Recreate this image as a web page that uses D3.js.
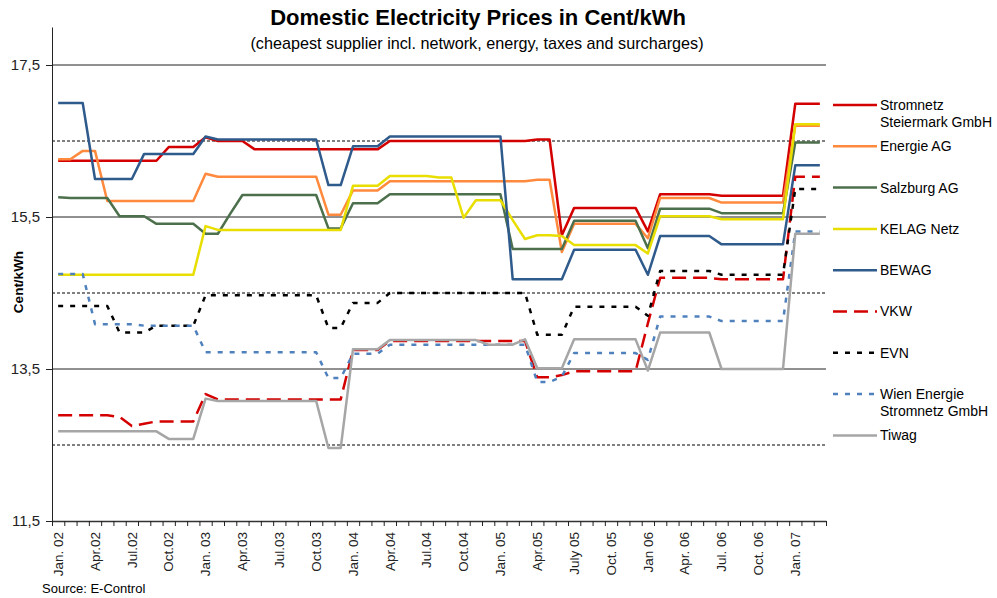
<!DOCTYPE html>
<html>
<head>
<meta charset="utf-8">
<script src="https://cdn.jsdelivr.net/npm/d3@7"></script>
<style>
  html, body { margin: 0; padding: 0; background: #fff; }
  svg { display: block; font-family: "Liberation Sans", Arial, sans-serif; }
</style>
</head>
<body>
<svg id="chart" width="997" height="598"></svg>
<script>
// one value per month, Jan 2002 .. Mar 2007 (63 months)
const months = d3.utcMonth.range(new Date(Date.UTC(2002, 0, 1)), new Date(Date.UTC(2007, 3, 1)));

const tickLabels = ["Jan. 02", "Apr.02", "Jul.02", "Oct.02", "Jan. 03", "Apr.03", "Jul.03", "Oct.03",
    "Jan. 04", "Apr.04", "Jul.04", "Oct.04", "Jan. 05", "Apr.05", "July 05", "Oct. 05",
    "Jan 06", "Apr. 06", "Jul. 06", "Oct. 06", "Jan. 07"];

const yTicks = [11.5, 13.5, 15.5, 17.5];
const yDotted = [12.5, 14.5, 16.5];

const stromnetz = [
    16.24, 16.24, 16.24, 16.24, 16.24, 16.24, 16.24, 16.24, 16.24, 16.42, 16.42, 16.42,
    16.55, 16.50, 16.50, 16.50, 16.39, 16.39, 16.39, 16.39, 16.39, 16.39, 16.39, 16.39,
    16.39, 16.39, 16.39, 16.50, 16.50, 16.50, 16.50, 16.50, 16.50, 16.50, 16.50, 16.50,
    16.50, 16.50, 16.50, 16.52, 16.52, 15.26, 15.62, 15.62, 15.62, 15.62, 15.62, 15.62,
    15.31, 15.80, 15.80, 15.80, 15.80, 15.80, 15.78, 15.78, 15.78, 15.78, 15.78, 15.78,
    16.99, 16.99, 16.99];
const energieAG = [
    16.26, 16.26, 16.37, 16.37, 15.71, 15.71, 15.71, 15.71, 15.71, 15.71, 15.71, 15.71,
    16.07, 16.03, 16.03, 16.03, 16.03, 16.03, 16.03, 16.03, 16.03, 16.03, 15.53, 15.53,
    15.85, 15.85, 15.85, 15.97, 15.97, 15.97, 15.97, 15.97, 15.97, 15.97, 15.97, 15.97,
    15.97, 15.97, 15.97, 15.99, 15.99, 15.04, 15.41, 15.41, 15.41, 15.41, 15.41, 15.41,
    15.22, 15.75, 15.75, 15.75, 15.75, 15.75, 15.69, 15.69, 15.69, 15.69, 15.69, 15.69,
    16.70, 16.70, 16.70];
const salzburgAG = [
    15.76, 15.75, 15.75, 15.75, 15.75, 15.51, 15.51, 15.51, 15.41, 15.41, 15.41, 15.41,
    15.28, 15.28, 15.54, 15.79, 15.79, 15.79, 15.79, 15.79, 15.79, 15.79, 15.35, 15.35,
    15.68, 15.68, 15.68, 15.80, 15.80, 15.80, 15.80, 15.80, 15.80, 15.80, 15.80, 15.80,
    15.80, 15.08, 15.08, 15.08, 15.08, 15.08, 15.45, 15.45, 15.45, 15.45, 15.45, 15.45,
    15.09, 15.61, 15.61, 15.61, 15.61, 15.61, 15.55, 15.55, 15.55, 15.55, 15.55, 15.55,
    16.48, 16.48, 16.48];
const kelag = [
    14.74, 14.74, 14.74, 14.74, 14.74, 14.74, 14.74, 14.74, 14.74, 14.74, 14.74, 14.74,
    15.38, 15.33, 15.33, 15.33, 15.33, 15.33, 15.33, 15.33, 15.33, 15.33, 15.33, 15.33,
    15.91, 15.91, 15.91, 16.04, 16.04, 16.04, 16.04, 16.02, 16.02, 15.49, 15.72, 15.72,
    15.72, 15.46, 15.21, 15.26, 15.26, 15.25, 15.13, 15.13, 15.13, 15.13, 15.13, 15.13,
    15.02, 15.51, 15.51, 15.51, 15.51, 15.51, 15.47, 15.47, 15.47, 15.47, 15.47, 15.47,
    16.72, 16.72, 16.72];
const bewag = [
    17.00, 17.00, 17.00, 16.00, 16.00, 16.00, 16.00, 16.33, 16.33, 16.33, 16.33, 16.33,
    16.56, 16.52, 16.52, 16.52, 16.52, 16.52, 16.52, 16.52, 16.52, 16.52, 15.92, 15.92,
    16.43, 16.43, 16.43, 16.56, 16.56, 16.56, 16.56, 16.56, 16.56, 16.56, 16.56, 16.56,
    16.56, 14.68, 14.68, 14.68, 14.68, 14.68, 15.07, 15.07, 15.07, 15.07, 15.07, 15.07,
    14.74, 15.25, 15.25, 15.25, 15.25, 15.25, 15.14, 15.14, 15.14, 15.14, 15.14, 15.14,
    16.18, 16.18, 16.18];
const vkw = [
    12.89, 12.89, 12.89, 12.89, 12.89, 12.87, 12.75, 12.78, 12.81, 12.81, 12.81, 12.81,
    13.17, 13.10, 13.10, 13.10, 13.10, 13.10, 13.10, 13.10, 13.10, 13.10, 13.10, 13.10,
    13.75, 13.75, 13.75, 13.87, 13.87, 13.87, 13.87, 13.87, 13.87, 13.87, 13.87, 13.87,
    13.87, 13.87, 13.87, 13.39, 13.39, 13.42, 13.47, 13.47, 13.47, 13.47, 13.47, 13.47,
    14.10, 14.70, 14.70, 14.70, 14.70, 14.70, 14.68, 14.68, 14.68, 14.68, 14.68, 14.68,
    16.03, 16.03, 16.03];
const evn = [
    14.33, 14.33, 14.33, 14.33, 14.33, 13.98, 13.98, 13.98, 14.07, 14.07, 14.07, 14.07,
    14.47, 14.47, 14.47, 14.47, 14.47, 14.47, 14.47, 14.47, 14.47, 14.47, 14.04, 14.04,
    14.37, 14.37, 14.37, 14.50, 14.50, 14.50, 14.50, 14.50, 14.50, 14.50, 14.50, 14.50,
    14.50, 14.50, 14.50, 13.95, 13.95, 13.95, 14.32, 14.32, 14.32, 14.32, 14.32, 14.32,
    14.20, 14.79, 14.79, 14.79, 14.79, 14.79, 14.74, 14.74, 14.74, 14.74, 14.74, 14.74,
    15.87, 15.87, 15.87];
const wienEnergie = [
    14.75, 14.75, 14.75, 14.09, 14.09, 14.09, 14.09, 14.07, 14.07, 14.07, 14.07, 14.07,
    13.72, 13.72, 13.72, 13.72, 13.72, 13.72, 13.72, 13.72, 13.72, 13.72, 13.38, 13.38,
    13.70, 13.70, 13.70, 13.82, 13.82, 13.82, 13.82, 13.82, 13.82, 13.82, 13.82, 13.82,
    13.82, 13.82, 13.82, 13.33, 13.33, 13.40, 13.71, 13.71, 13.71, 13.71, 13.71, 13.71,
    13.62, 14.19, 14.19, 14.19, 14.19, 14.19, 14.13, 14.13, 14.13, 14.13, 14.13, 14.13,
    15.31, 15.31, 15.31];
const tiwag = [
    12.68, 12.68, 12.68, 12.68, 12.68, 12.68, 12.68, 12.68, 12.68, 12.58, 12.58, 12.58,
    13.11, 13.08, 13.08, 13.08, 13.08, 13.08, 13.08, 13.08, 13.08, 13.08, 12.46, 12.46,
    13.76, 13.76, 13.76, 13.88, 13.88, 13.88, 13.88, 13.88, 13.88, 13.88, 13.88, 13.82,
    13.82, 13.82, 13.89, 13.51, 13.51, 13.51, 13.89, 13.89, 13.89, 13.89, 13.89, 13.89,
    13.48, 13.98, 13.98, 13.98, 13.98, 13.98, 13.50, 13.50, 13.50, 13.50, 13.50, 13.50,
    15.28, 15.28, 15.28];

const series = [
    { name: ["Stromnetz", "Steiermark GmbH"], values: stromnetz, color: "#d40000", dash: null },
    { name: ["Energie AG"], values: energieAG, color: "#ff8a3d", dash: null },
    { name: ["Salzburg AG"], values: salzburgAG, color: "#4c6f4c", dash: null },
    { name: ["KELAG Netz"], values: kelag, color: "#e8de00", dash: null },
    { name: ["BEWAG"], values: bewag, color: "#2f5a8c", dash: null },
    { name: ["VKW"], values: vkw, color: "#d40000", dash: "14,7" },
    { name: ["EVN"], values: evn, color: "#000000", dash: "5,7" },
    { name: ["Wien Energie", "Stromnetz GmbH"], values: wienEnergie, color: "#4f81bd", dash: "5,7" },
    { name: ["Tiwag"], values: tiwag, color: "#a6a6a6", dash: null }
];

const svg = d3.select("#chart");
const m = { left: 52, right: 826, top: 27, bottom: 521 };

const x = d3.scaleLinear().domain([-0.5, months.length - 0.5]).range([m.left, m.right]);
const y = d3.scaleLinear().domain([11.5, 18]).range([m.bottom, m.top]);
const fmt = d => d3.format(".1f")(d).replace(".", ",");

// title
svg.append("text").attr("x", 478).attr("y", 25).attr("text-anchor", "middle")
    .attr("font-size", 22).attr("font-weight", "bold").attr("fill", "#000")
    .text("Domestic Electricity Prices in Cent/kWh");
svg.append("text").attr("x", 477).attr("y", 49).attr("text-anchor", "middle")
    .attr("font-size", 16.2).attr("fill", "#000")
    .text("(cheapest supplier incl. network, energy, taxes and surcharges)");

// grid
svg.append("g").selectAll("line").data(yTicks.slice(1)).join("line")
    .attr("x1", m.left).attr("x2", m.right)
    .attr("y1", d => y(d)).attr("y2", d => y(d))
    .attr("stroke", "#222").attr("stroke-width", 1);
svg.append("g").selectAll("line").data(yDotted).join("line")
    .attr("x1", m.left).attr("x2", m.right)
    .attr("y1", d => y(d)).attr("y2", d => y(d))
    .attr("stroke", "#000").attr("stroke-width", 1).attr("stroke-dasharray", "3,2");

// y axis
svg.append("g").attr("transform", `translate(${m.left},0)`)
    .call(d3.axisLeft(y).tickValues(yTicks).tickFormat(fmt).tickSize(6).tickPadding(6).tickSizeOuter(0))
    .call(g => g.select(".domain").attr("stroke", "#222"))
    .call(g => g.selectAll("line").attr("stroke", "#222"))
    .call(g => g.selectAll("text").attr("font-size", 15).attr("fill", "#222")
        .attr("font-family", "Liberation Sans, Arial, sans-serif"));

svg.append("text").attr("transform", "translate(23,282) rotate(-90)")
    .attr("text-anchor", "middle").attr("font-size", 13.5).attr("font-weight", "bold")
    .text("Cent/kWh");

// x axis: ticks at month boundaries
svg.append("g").attr("transform", `translate(0,${m.bottom})`)
    .call(d3.axisBottom(x).tickValues(d3.range(-0.5, months.length, 1)).tickFormat("").tickSize(5).tickSizeOuter(0))
    .call(g => g.select(".domain").attr("stroke", "#333").attr("stroke-width", 1.5))
    .call(g => g.selectAll("line").attr("stroke", "#222"));

svg.append("g").selectAll("text").data(tickLabels).join("text")
    .attr("transform", (d, i) => `translate(${x(i * 3)},532) rotate(-90)`)
    .attr("text-anchor", "end").attr("dy", "0.35em")
    .attr("font-size", 13.5).attr("fill", "#222")
    .text(d => d);

svg.append("text").attr("x", 42).attr("y", 593).attr("font-size", 13).attr("fill", "#000")
    .text("Source: E-Control");

// lines
const line = d3.line().x((d, i) => x(i)).y(d => y(d));
svg.append("g").selectAll("path").data(series).join("path")
    .attr("d", d => line(d.values))
    .attr("fill", "none")
    .attr("stroke", d => d.color)
    .attr("stroke-width", 2.5)
    .attr("stroke-dasharray", d => d.dash)
    .attr("stroke-linejoin", "round");

// legend
const legend = svg.append("g").attr("transform", "translate(833,105)");
series.forEach((s, i) => {
    const ly = i * 41.3;
    legend.append("line").attr("x1", 0).attr("x2", 44).attr("y1", ly).attr("y2", ly)
        .attr("stroke", s.color).attr("stroke-width", 2.5).attr("stroke-dasharray", s.dash);
    const t = legend.append("text").attr("x", 47).attr("y", ly).attr("dy", "0.35em")
        .attr("font-size", 14).attr("fill", "#000");
    s.name.forEach((n, k) => t.append("tspan").attr("x", 47).attr("dy", k === 0 ? "0.35em" : 17).text(n));
});
</script>
</body>
</html>
